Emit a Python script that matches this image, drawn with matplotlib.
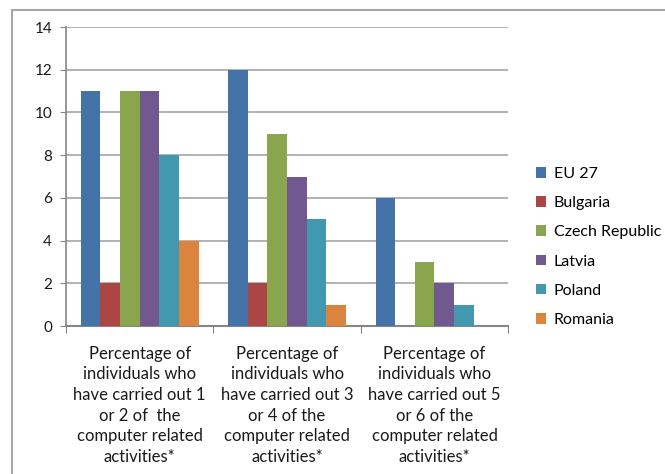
import numpy as np
import matplotlib
matplotlib.use('Agg')
from matplotlib import pyplot as plt
from matplotlib.patches import Rectangle

## DATA
categories = ['Percentage of\nindividuals who\nhave carried out 1\nor 2 of  the\ncomputer related\nactivities*',
              'Percentage of\nindividuals who\nhave carried out 3\nor 4 of the\ncomputer related\nactivities*',
              'Percentage of\nindividuals who\nhave carried out 5\nor 6 of the\ncomputer related\nactivities*']
series = ['EU 27', 'Bulgaria', 'Czech Republic', 'Latvia', 'Poland', 'Romania']
eu27 = [11, 12, 6]
bulgaria = [2, 2, 0]
czech = [11, 9, 3]
latvia = [11, 7, 2]
poland = [8, 5, 1]
romania = [4, 1, 0]
values = [eu27, bulgaria, czech, latvia, poland, romania]
colors = ['#4572A7', '#AA4643', '#89A54E', '#71588F', '#4198AF', '#DB843D']

plt.rcParams['font.family'] = ['Lato', 'DejaVu Sans']

fig = plt.figure(figsize=(6.65, 4.74), dpi=100)
ax = fig.add_axes([0.0992, 0.312, 0.665, 0.631])

# outer chart border (runs off right and bottom)
fig.patches.append(Rectangle((12/665, -0.1), 1.2, 1 - 10/474 + 0.1, transform=fig.transFigure,
                             fill=False, edgecolor='#A6A6A6', linewidth=1.5))

n = len(series)
bw = 1.0 / (n + 1.5)
x = np.arange(len(categories))
for i, (name, vals) in enumerate(zip(series, values)):
    off = (i - (n - 1) / 2) * bw
    ax.bar(x + off, vals, width=bw, color=colors[i], label=name, zorder=3)

ax.set_xlim(-0.5, len(categories) - 0.5)
ax.set_ylim(0, 14)
ax.set_yticks(range(0, 15, 2))
ax.yaxis.grid(True, color='#A6A6A6', linewidth=1.2, zorder=0)
ax.set_axisbelow(True)
for s in ['top', 'right']:
    ax.spines[s].set_visible(False)
ax.spines['left'].set_color('#868686')
ax.spines['bottom'].set_color('#868686')
ax.spines['left'].set_linewidth(1.2)
ax.spines['bottom'].set_linewidth(1.5)

ax.set_xticks(np.arange(-0.5, len(categories)), minor=False)
ax.set_xticklabels([])
ax.set_xticks(x, minor=True)
ax.set_xticklabels(categories, minor=True, fontsize=12, linespacing=1.36, color='#1a1a1a')
ax.tick_params(axis='x', which='major', length=5, color='#868686')
ax.tick_params(axis='x', which='minor', length=0, pad=14)
ax.tick_params(axis='y', length=4, color='#868686', labelsize=11, labelcolor='#1a1a1a', pad=6)

leg = fig.legend(loc='center left', bbox_to_anchor=(0.7845, 0.479), frameon=False,
                 fontsize=11.5, handlelength=0.65, handleheight=0.65, labelspacing=0.95,
                 handletextpad=0.45)

fig.savefig('out.png', dpi=100)
